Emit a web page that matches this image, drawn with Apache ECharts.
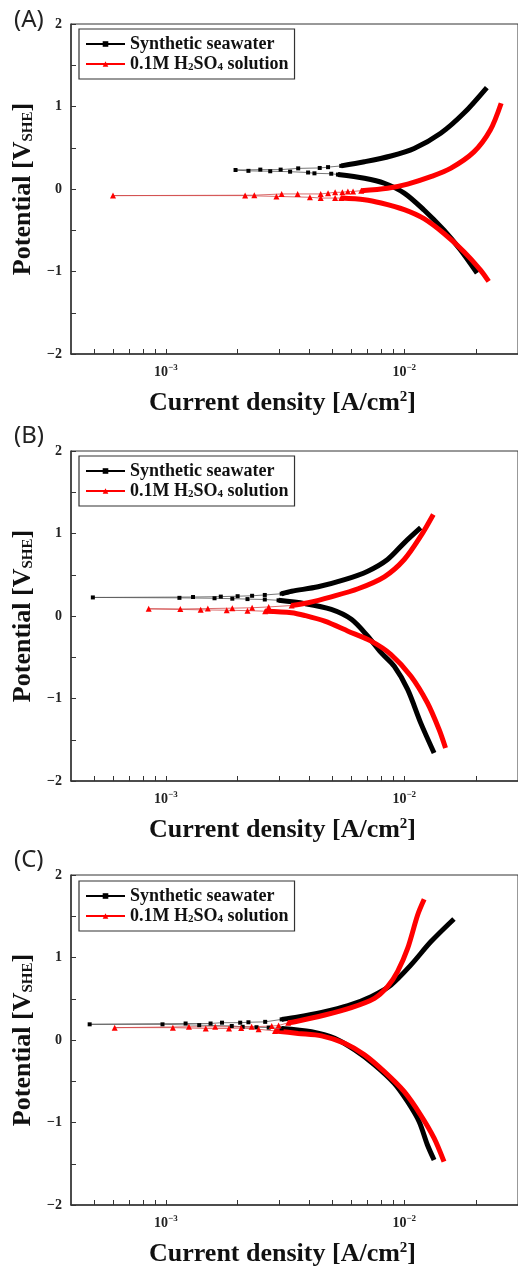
<!DOCTYPE html>
<html>
<head>
<meta charset="utf-8">
<script src="https://cdn.jsdelivr.net/npm/echarts@6/dist/echarts.min.js"></script>
<style>
html,body{margin:0;padding:0;background:#fff;}
#c{width:518px;height:1271px;}
</style>
</head>
<body>
<div id="c"></div>
<script>
// ---------- data: [current density (A/cm2), potential (V_SHE)] ----------
const nameSW = 'Synthetic seawater';
const nameH2 = '0.1M H2SO4 solution';
const panelLabels = ['(A)', '(B)', '(C)'];
const xTickValues = [0.0005,0.0006,0.0007,0.0008,0.0009,0.001,0.002,0.003,0.004,0.005,0.006,0.007,0.008,0.009,0.01,0.02];
const xLabelValues = [0.001, 0.01];
const yLabelValues = [-2, -1, 0, 1, 2];

// Panel A
const A_sw_cath = [[0.0202,-1.02],[0.01722,-0.74],[0.01468,-0.50],[0.0121,-0.255],[0.0100,-0.05],[0.00825,0.07],[0.00681,0.13],[0.00527,0.175]];
const A_sw_ecorr = [[0.00527,0.175],[0.00494,0.185],[0.0042,0.19],[0.00395,0.20],[0.00332,0.21],[0.00274,0.215],[0.00222,0.22],[0.00196,0.23],[0.00249,0.235],[0.00303,0.235],[0.00359,0.25],[0.00442,0.255],[0.00479,0.265],[0.00544,0.28]];
const A_sw_anod = [[0.00544,0.28],[0.00681,0.33],[0.00879,0.40],[0.0110,0.49],[0.01422,0.675],[0.0178,0.92],[0.0222,1.23]];
const A_h2_cath = [[0.0226,-1.12],[0.02085,-0.98],[0.0178,-0.76],[0.01468,-0.54],[0.0121,-0.36],[0.0100,-0.25],[0.0080,-0.17],[0.00681,-0.13],[0.00544,-0.11]];
const A_h2_ecorr = [[0.00544,-0.11],[0.00513,-0.11],[0.00446,-0.11],[0.00402,-0.10],[0.00291,-0.09],[0.00215,-0.08],[0.00060,-0.08],[0.00235,-0.075],[0.00306,-0.06],[0.00357,-0.06],[0.00446,-0.06],[0.00479,-0.05],[0.00513,-0.04],[0.0055,-0.04],[0.0058,-0.03],[0.0061,-0.03],[0.0066,-0.02]];
const A_h2_anod = [[0.0066,-0.02],[0.00851,0.01],[0.01033,0.06],[0.01292,0.15],[0.01564,0.25],[0.0196,0.45],[0.02296,0.715],[0.0255,1.04]];

// Panel B
const B_sw_cath = [[0.01334,-1.66],[0.01172,-1.295],[0.01033,-0.89],[0.00908,-0.61],[0.0080,-0.445],[0.00703,-0.245],[0.0060,-0.04],[0.00494,0.08],[0.00383,0.15],[0.00297,0.19]];
const B_sw_ecorr = [[0.00297,0.19],[0.0026,0.20],[0.0022,0.205],[0.0019,0.21],[0.0016,0.215],[0.00114,0.22],[0.000494,0.225],[0.0013,0.23],[0.0017,0.235],[0.002,0.24],[0.0023,0.245],[0.0026,0.255],[0.00306,0.27]];
const B_sw_anod = [[0.00306,0.27],[0.00337,0.30],[0.00435,0.354],[0.00562,0.44],[0.00703,0.543],[0.00851,0.685],[0.0100,0.887],[0.01172,1.07]];
const B_h2_cath = [[0.0149,-1.6],[0.014,-1.376],[0.0125,-1.052],[0.01067,-0.73],[0.0088,-0.467],[0.00726,-0.305],[0.00581,-0.184],[0.00464,-0.063],[0.00383,0.006],[0.00337,0.04],[0.00261,0.058]];
const B_h2_ecorr = [[0.00261,0.058],[0.0022,0.065],[0.0018,0.07],[0.0014,0.075],[0.000847,0.087],[0.00115,0.085],[0.0015,0.09],[0.0019,0.095],[0.0023,0.10],[0.0027,0.11],[0.00337,0.127]];
const B_h2_anod = [[0.00337,0.127],[0.00395,0.16],[0.00494,0.232],[0.0064,0.33],[0.00825,0.475],[0.0100,0.685],[0.01172,0.967],[0.01324,1.23]];

// Panel C
const C_sw_cath = [[0.01334,-1.455],[0.0125,-1.27],[0.01155,-0.99],[0.01033,-0.748],[0.00908,-0.525],[0.0075,-0.30],[0.0062,-0.12],[0.00511,0.02],[0.00408,0.10],[0.00306,0.14]];
const C_sw_ecorr = [[0.00306,0.14],[0.0027,0.15],[0.0024,0.155],[0.0021,0.16],[0.00189,0.17],[0.00138,0.18],[0.000968,0.19],[0.000479,0.19],[0.00121,0.20],[0.00154,0.20],[0.00172,0.21],[0.00205,0.21],[0.00222,0.215],[0.00261,0.22],[0.00306,0.25]];
const C_sw_anod = [[0.00306,0.25],[0.00359,0.28],[0.0045,0.335],[0.00581,0.416],[0.00726,0.525],[0.0088,0.667],[0.01067,0.91],[0.01292,1.19],[0.01616,1.467]];
const C_h2_cath = [[0.01468,-1.475],[0.01334,-1.19],[0.01172,-0.91],[0.0100,-0.627],[0.00825,-0.384],[0.00681,-0.18],[0.00562,-0.04],[0.0045,0.05],[0.00359,0.08],[0.00287,0.11]];
const C_h2_ecorr = [[0.00287,0.11],[0.00245,0.13],[0.00207,0.145],[0.00184,0.14],[0.00147,0.14],[0.00107,0.15],[0.00061,0.15],[0.00125,0.16],[0.00161,0.16],[0.00229,0.16],[0.00278,0.17],[0.00297,0.175],[0.00326,0.21]];
const C_h2_anod = [[0.00326,0.21],[0.00348,0.222],[0.00464,0.303],[0.006,0.392],[0.0075,0.505],[0.00851,0.646],[0.00937,0.828],[0.01033,1.11],[0.01138,1.515],[0.01212,1.705]];

const panels = [
  {sw:[A_sw_cath,A_sw_ecorr,A_sw_anod], h2:[A_h2_cath,A_h2_ecorr,A_h2_anod]},
  {sw:[B_sw_cath,B_sw_ecorr,B_sw_anod], h2:[B_h2_cath,B_h2_ecorr,B_h2_anod]},
  {sw:[C_sw_cath,C_sw_ecorr,C_sw_anod], h2:[C_h2_cath,C_h2_ecorr,C_h2_anod]}
];

// ---------- layout / style ----------
const SERIF = 'Liberation Serif';
const gridTops = [24, 451, 875];
const gridH = 330;
const legendTops = [29, 456, 881];
const labelTops = [3, 419, 843];
const BLACK = '#000000', RED = '#ff0000';

const option = {
  animation: false,
  backgroundColor: '#ffffff',
  title: [], grid: [], xAxis: [], yAxis: [], legend: [], series: []
};

panels.forEach((p, gi) => {
  option.title.push({
    text: panelLabels[gi], left: 9, top: labelTops[gi],
    textStyle: {fontFamily: 'Noto Sans', fontWeight: 'normal', fontSize: 24, color: '#222'}
  });
  option.grid.push({
    left: 71, top: gridTops[gi], width: 450, height: gridH,
    show: true, borderColor: '#333', borderWidth: 1, backgroundColor: 'transparent'
  });
  option.xAxis.push({
    gridIndex: gi, type: 'log', logBase: 10, min: 0.0004, max: 0.03,
    axisLine: {onZero: false, lineStyle: {color: '#333', width: 1.5}},
    axisTick: {inside: true, length: 5, customValues: xTickValues, lineStyle: {color: '#333', width: 1}},
    minorTick: {show: false},
    splitLine: {show: false},
    axisLabel: {
      customValues: xLabelValues, margin: 9,
      formatter: v => '{b|10}{s|−' + Math.abs(Math.round(Math.log10(v))) + '}',
      rich: {
        b: {fontFamily: SERIF, fontWeight: 'bold', fontSize: 14, color: '#222'},
        s: {fontFamily: SERIF, fontWeight: 'bold', fontSize: 9, color: '#222', padding: [0, 0, 9, 0]}
      }
    },
    name: 'Current density [A/cm{sup|2}]',
    nameLocation: 'middle', nameGap: 36,
    nameTextStyle: {
      fontFamily: SERIF, fontWeight: 'bold', fontSize: 26, color: '#111', padding: [0, 24, 0, 0],
      rich: {sup: {fontFamily: SERIF, fontWeight: 'bold', fontSize: 15, color: '#111', padding: [0, 0, 12, 0]}}
    }
  });
  option.yAxis.push({
    gridIndex: gi, type: 'value', min: -2, max: 2, interval: 0.5,
    axisLine: {show: true, onZero: false, lineStyle: {color: '#333', width: 1.5}},
    axisTick: {inside: true, length: 5, lineStyle: {color: '#333', width: 1}},
    splitLine: {show: false},
    axisLabel: {
      customValues: yLabelValues, margin: 9,
      fontFamily: SERIF, fontWeight: 'bold', fontSize: 14, color: '#222',
      formatter: v => (v < 0 ? '−' + Math.abs(v) : String(v))
    },
    name: 'Potential [V{sub|SHE}]',
    nameLocation: 'middle', nameGap: 35,
    nameTextStyle: {
      fontFamily: SERIF, fontWeight: 'bold', fontSize: 26, color: '#111',
      rich: {sub: {fontFamily: SERIF, fontWeight: 'bold', fontSize: 15, color: '#111', padding: [11, 0, 0, 0]}}
    }
  });
  option.legend.push({
    left: 79, top: legendTops[gi], orient: 'vertical',
    selectedMode: false,
    borderColor: '#333', borderWidth: 1.2, padding: [6, 6, 6, 6],
    itemWidth: 39, itemHeight: 7, itemGap: 2,
    data: [
      {name: nameSW, itemStyle: {color: BLACK}, lineStyle: {color: BLACK, width: 2}},
      {name: nameH2, itemStyle: {color: RED}, lineStyle: {color: RED, width: 2}}
    ],
    formatter: n => n === nameH2 ? '0.1M H{sub|2}SO{sub|4} solution' : n,
    textStyle: {
      fontFamily: SERIF, fontWeight: 'bold', fontSize: 18, color: '#111', lineHeight: 18,
      rich: {sub: {fontFamily: SERIF, fontWeight: 'bold', fontSize: 11, color: '#111', padding: [7, 0, 0, 0]}}
    }
  });

  const defs = [
    {name: nameSW, d: p.sw, color: BLACK, thin: '#555', symbol: 'rect', size: 4},
    {name: nameH2, d: p.h2, color: RED, thin: '#d04848', symbol: 'triangle', size: 6}
  ];
  // marker series (Ecorr region) first so legend icons show markers
  defs.forEach(s => {
    option.series.push({
      name: s.name, type: 'line', xAxisIndex: gi, yAxisIndex: gi,
      data: s.d[1], symbol: s.symbol, symbolSize: s.size, showSymbol: true,
      lineStyle: {color: s.thin, width: 0.8}, itemStyle: {color: s.color},
      z: 4
    });
  });
  defs.forEach((s, k) => {
    [s.d[0], s.d[2]].forEach(branch => {
      option.series.push({
        name: s.name, type: 'line', xAxisIndex: gi, yAxisIndex: gi,
        data: branch, symbol: 'none', smooth: 0.3,
        lineStyle: {color: s.color, width: 5}, itemStyle: {color: s.color},
        z: 2 + k
      });
    });
  });
});

const chart = echarts.init(document.getElementById('c'), null, {renderer: 'canvas'});
chart.setOption(option);
</script>
</body>
</html>
